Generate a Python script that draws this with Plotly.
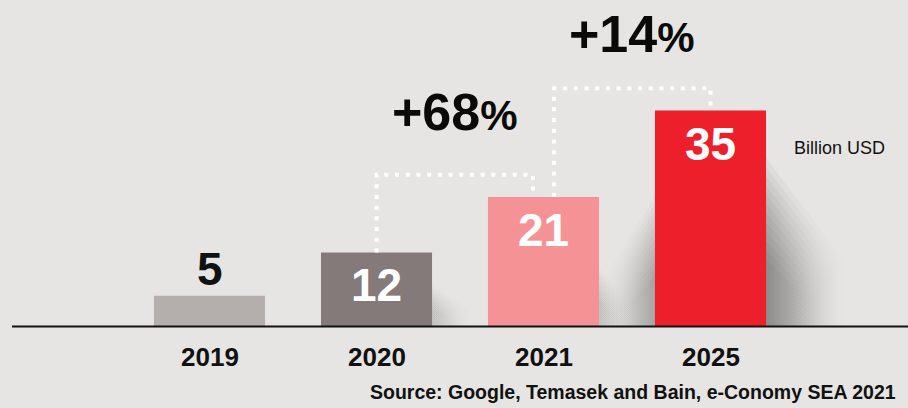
import plotly.graph_objects as go

years = ["2019", "2020", "2021", "2025"]
values = [5, 12, 21, 35]
bar_colors = ["#b4aeac", "#857a7a", "#f59295", "#ec1f2b"]
label_colors = ["#111111", "#ffffff", "#ffffff", "#ffffff"]
growth_labels = ["+68", "+14"]
unit_label = "Billion USD"
source_text = "Source: Google, Temasek and Bain, e-Conomy SEA 2021"

BG = "#e6e5e3"
FONT = "Liberation Sans, Arial, sans-serif"
BAR_W = 0.665

xs = list(range(len(years)))

fig = go.Figure()

# soft drop shadows beside bars (bar index, side, width in category units, top fraction, alpha)
shadow_specs = [
    (1, 1, 0.26, 0.55, 0.12),
    (2, 1, 0.22, 0.45, 0.12),
    (3, -1, 0.32, 0.6, 0.24),
    (3, 1, 0.5, 0.78, 0.36),
]
LAYERS = 12
for (i, side, w, frac, alpha) in shadow_specs:
    edge = xs[i] + side * BAR_W / 2
    for k in range(LAYERS):
        t = k / (LAYERS - 1)
        top = values[i] * frac * (1 - 0.6 * t)
        far = edge + side * w * (1 - 0.45 * t)
        a = alpha / LAYERS * 1.6
        fig.add_trace(go.Scatter(
            x=[edge, edge, far, far, edge],
            y=[0, top, top * 0.35, 0, 0],
            mode="lines", line=dict(width=0), fill="toself",
            fillgradient=dict(type="horizontal",
                              colorscale=[[0, f"rgba(30,30,30,{a if side > 0 else 0})"],
                                          [1, f"rgba(30,30,30,{0 if side > 0 else a})"]]),
            hoverinfo="skip", showlegend=False,
        ))

fig.add_trace(go.Bar(
    x=xs, y=values, width=BAR_W,
    marker=dict(color=bar_colors, line=dict(width=0)),
    hoverinfo="skip", showlegend=False,
))

# dotted connectors between consecutive bars (2020->2021, 2021->2025)
pairs = [(1, 2, 0.0, -0.063), (2, 3, 0.063, 0.0)]
conn_levels = []
for (a, b, oa, ob) in pairs:
    level = max(values[a], values[b]) + 3.6
    conn_levels.append(level)
    fig.add_trace(go.Scatter(
        x=[xs[a] + oa, xs[a] + oa, xs[b] + ob, xs[b] + ob],
        y=[values[a], level, level, values[b]],
        mode="lines",
        line=dict(color="#ffffff", width=4, dash="4px,6.7px"),
        hoverinfo="skip", showlegend=False,
    ))

annotations = []
# value labels
for i, v in enumerate(values):
    shift = 27 if i == 0 else -33
    annotations.append(dict(x=xs[i], y=v, text=f"<b>{v}</b>", showarrow=False,
                            yanchor="middle", yshift=shift,
                            font=dict(family=FONT, size=46, color=label_colors[i])))
# year labels
for i, yr in enumerate(years):
    annotations.append(dict(x=xs[i], y=0, text=f"<b>{yr}</b>", showarrow=False,
                            yanchor="middle", yshift=-30,
                            font=dict(family=FONT, size=26, color="#111111")))
# growth labels
for k, (a, b, oa, ob) in enumerate(pairs):
    xm = ((xs[a] + oa) + (xs[b] + ob)) / 2
    shift = [63, 54][k]
    annotations.append(dict(
        x=xm, y=conn_levels[k], showarrow=False, yanchor="middle", yshift=shift,
        text=f"<b>{growth_labels[k]}</b><span style='font-size:42px'><b>%</b></span>",
        font=dict(family=FONT, size=52, color="#0a0a0a")))
# unit label
annotations.append(dict(x=3, y=values[3], text=unit_label, showarrow=False,
                        xanchor="left", yanchor="middle", xshift=81, yshift=-37,
                        font=dict(family=FONT, size=18, color="#111111")))
# source
annotations.append(dict(x=1, y=0, xref="paper", yref="paper", text=f"<b>{source_text}</b>",
                        showarrow=False, xanchor="right", yanchor="bottom",
                        xshift=-10, yshift=3,
                        font=dict(family=FONT, size=19.5, color="#111111")))

fig.update_layout(
    width=908, height=408,
    margin=dict(l=0, r=0, t=0, b=0),
    paper_bgcolor=BG, plot_bgcolor=BG,
    xaxis=dict(range=[-1.2545, 4.1826], visible=False, fixedrange=True),
    yaxis=dict(range=[-13.21, 52.92], visible=False, fixedrange=True),
    annotations=annotations,
    shapes=[dict(type="line", xref="paper", yref="y", x0=12/908, x1=1, y0=0, y1=0,
                 line=dict(color="#111111", width=2))],
    showlegend=False,
)

fig.write_html("out.html")
